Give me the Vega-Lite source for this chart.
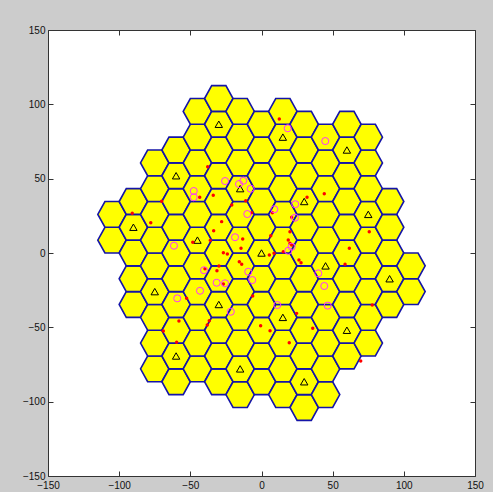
{
  "$schema": "https://vega.github.io/schema/vega-lite/v6.json",
  "width": 427,
  "height": 446,
  "autosize": {"type": "none"},
  "padding": {"left": 48, "top": 30, "right": 18, "bottom": 16},
  "background": "#cccccc",
  "view": {"fill": "white", "stroke": "#333333", "strokeWidth": 1},
  "config": {
    "axis": {
      "grid": false,
      "domain": false,
      "tickSize": -5,
      "tickColor": "#333333",
      "labelFont": "Liberation Sans",
      "labelFontSize": 10,
      "labelColor": "#111111",
      "labelFlush": false,
      "labelOverlap": false,
      "title": null
    },
    "axisBottom": {"labelPadding": 9},
    "axisLeft": {"labelPadding": 8}
  },
  "datasets": {
    "hex": [
      {"x": -105, "y": 8.66}, {"x": -105, "y": 25.98},
      {"x": -90, "y": -34.64}, {"x": -90, "y": -17.32}, {"x": -90, "y": 0}, {"x": -90, "y": 17.32}, {"x": -90, "y": 34.64},
      {"x": -75, "y": -77.94}, {"x": -75, "y": -60.62}, {"x": -75, "y": -43.3}, {"x": -75, "y": -25.98}, {"x": -75, "y": -8.66}, {"x": -75, "y": 8.66}, {"x": -75, "y": 25.98}, {"x": -75, "y": 43.3}, {"x": -75, "y": 60.62},
      {"x": -60, "y": -86.6}, {"x": -60, "y": -69.28}, {"x": -60, "y": -51.96}, {"x": -60, "y": -34.64}, {"x": -60, "y": -17.32}, {"x": -60, "y": 0}, {"x": -60, "y": 17.32}, {"x": -60, "y": 34.64}, {"x": -60, "y": 51.96}, {"x": -60, "y": 69.28},
      {"x": -45, "y": -77.94}, {"x": -45, "y": -60.62}, {"x": -45, "y": -43.3}, {"x": -45, "y": -25.98}, {"x": -45, "y": -8.66}, {"x": -45, "y": 8.66}, {"x": -45, "y": 25.98}, {"x": -45, "y": 43.3}, {"x": -45, "y": 60.62}, {"x": -45, "y": 77.94}, {"x": -45, "y": 95.26},
      {"x": -30, "y": -86.6}, {"x": -30, "y": -69.28}, {"x": -30, "y": -51.96}, {"x": -30, "y": -34.64}, {"x": -30, "y": -17.32}, {"x": -30, "y": 0}, {"x": -30, "y": 17.32}, {"x": -30, "y": 34.64}, {"x": -30, "y": 51.96}, {"x": -30, "y": 69.28}, {"x": -30, "y": 86.6}, {"x": -30, "y": 103.92},
      {"x": -15, "y": -95.26}, {"x": -15, "y": -77.94}, {"x": -15, "y": -60.62}, {"x": -15, "y": -43.3}, {"x": -15, "y": -25.98}, {"x": -15, "y": -8.66}, {"x": -15, "y": 8.66}, {"x": -15, "y": 25.98}, {"x": -15, "y": 43.3}, {"x": -15, "y": 60.62}, {"x": -15, "y": 77.94}, {"x": -15, "y": 95.26},
      {"x": 0, "y": -86.6}, {"x": 0, "y": -69.28}, {"x": 0, "y": -51.96}, {"x": 0, "y": -34.64}, {"x": 0, "y": -17.32}, {"x": 0, "y": 0}, {"x": 0, "y": 17.32}, {"x": 0, "y": 34.64}, {"x": 0, "y": 51.96}, {"x": 0, "y": 69.28}, {"x": 0, "y": 86.6},
      {"x": 15, "y": -95.26}, {"x": 15, "y": -77.94}, {"x": 15, "y": -60.62}, {"x": 15, "y": -43.3}, {"x": 15, "y": -25.98}, {"x": 15, "y": -8.66}, {"x": 15, "y": 8.66}, {"x": 15, "y": 25.98}, {"x": 15, "y": 43.3}, {"x": 15, "y": 60.62}, {"x": 15, "y": 77.94}, {"x": 15, "y": 95.26},
      {"x": 30, "y": -103.92}, {"x": 30, "y": -86.6}, {"x": 30, "y": -69.28}, {"x": 30, "y": -51.96}, {"x": 30, "y": -34.64}, {"x": 30, "y": -17.32}, {"x": 30, "y": 0}, {"x": 30, "y": 17.32}, {"x": 30, "y": 34.64}, {"x": 30, "y": 51.96}, {"x": 30, "y": 69.28}, {"x": 30, "y": 86.6},
      {"x": 45, "y": -95.26}, {"x": 45, "y": -77.94}, {"x": 45, "y": -60.62}, {"x": 45, "y": -43.3}, {"x": 45, "y": -25.98}, {"x": 45, "y": -8.66}, {"x": 45, "y": 8.66}, {"x": 45, "y": 25.98}, {"x": 45, "y": 43.3}, {"x": 45, "y": 60.62}, {"x": 45, "y": 77.94},
      {"x": 60, "y": -69.28}, {"x": 60, "y": -51.96}, {"x": 60, "y": -34.64}, {"x": 60, "y": -17.32}, {"x": 60, "y": 0}, {"x": 60, "y": 17.32}, {"x": 60, "y": 34.64}, {"x": 60, "y": 51.96}, {"x": 60, "y": 69.28}, {"x": 60, "y": 86.6},
      {"x": 75, "y": -60.62}, {"x": 75, "y": -43.3}, {"x": 75, "y": -25.98}, {"x": 75, "y": -8.66}, {"x": 75, "y": 8.66}, {"x": 75, "y": 25.98}, {"x": 75, "y": 43.3}, {"x": 75, "y": 60.62}, {"x": 75, "y": 77.94},
      {"x": 90, "y": -34.64}, {"x": 90, "y": -17.32}, {"x": 90, "y": 0}, {"x": 90, "y": 17.32}, {"x": 90, "y": 34.64},
      {"x": 105, "y": -25.98}, {"x": 105, "y": -8.66}
    ],
    "bs": [
      {"x": 0, "y": 0}, {"x": 45, "y": -8.66}, {"x": 30, "y": 34.64}, {"x": -15, "y": 43.3}, {"x": -45, "y": 8.66}, {"x": -30, "y": -34.64}, {"x": 15, "y": -43.3},
      {"x": 90, "y": -17.32}, {"x": 75, "y": 25.98}, {"x": 60, "y": 69.28}, {"x": 15, "y": 77.94}, {"x": -30, "y": 86.6}, {"x": -60, "y": 51.96}, {"x": -90, "y": 17.32},
      {"x": -75, "y": -25.98}, {"x": -60, "y": -69.28}, {"x": -15, "y": -77.94}, {"x": 30, "y": -86.6}, {"x": 60, "y": -51.96}
    ],
    "dots": [
      {"x": -37.8, "y": 58.0}, {"x": -33.9, "y": 38.8}, {"x": -43.4, "y": 37.5}, {"x": -70.1, "y": 34.8}, {"x": 12.5, "y": 90.1},
      {"x": -11.1, "y": 35.2}, {"x": 32.0, "y": 37.5}, {"x": 44.1, "y": 39.9}, {"x": -90.8, "y": 26.7}, {"x": -77.8, "y": 20.4},
      {"x": -33.6, "y": 15.0}, {"x": -48.3, "y": 7.2}, {"x": -36.0, "y": 8.5}, {"x": -39.7, "y": -10.6}, {"x": -31.3, "y": -11.9},
      {"x": -29.9, "y": -8.7}, {"x": -20.9, "y": 32.3}, {"x": -6.9, "y": 27.1}, {"x": 7.6, "y": 27.1}, {"x": 21.2, "y": 24.0},
      {"x": -28.0, "y": 21.1}, {"x": -13.2, "y": 9.4}, {"x": 6.5, "y": 11.6}, {"x": 20.0, "y": 14.3}, {"x": 18.8, "y": 8.7},
      {"x": 20.0, "y": 6.5}, {"x": 21.2, "y": 5.4}, {"x": 15.3, "y": 0.9}, {"x": 5.5, "y": -1.3}, {"x": 8.8, "y": -0.2},
      {"x": -14.4, "y": 3.2}, {"x": -26.8, "y": 0.2}, {"x": -24.0, "y": -0.7}, {"x": -15.6, "y": -5.9}, {"x": -13.9, "y": -7.6},
      {"x": 26.3, "y": -4.7}, {"x": 27.8, "y": -6.5}, {"x": -26.8, "y": -20.9}, {"x": 75.7, "y": 14.3}, {"x": 61.7, "y": 3.2},
      {"x": 58.7, "y": -7.6}, {"x": -52.6, "y": -30.5}, {"x": -58.0, "y": -45.7}, {"x": -36.7, "y": -45.5}, {"x": -38.1, "y": -48.4},
      {"x": -69.0, "y": -52.5}, {"x": -59.6, "y": -60.1}, {"x": -6.2, "y": -28.9}, {"x": 24.7, "y": -40.6}, {"x": -0.6, "y": -48.9},
      {"x": 6.0, "y": -52.3}, {"x": 19.5, "y": -60.3}, {"x": 36.0, "y": -50.6}, {"x": 77.8, "y": -35.0}, {"x": 69.7, "y": -72.6}
    ],
    "circles": [
      {"x": -47.6, "y": 41.7}, {"x": -47.6, "y": 37.5}, {"x": 18.4, "y": 83.9}, {"x": -25.6, "y": 48.4}, {"x": -12.8, "y": 48.6},
      {"x": -15.8, "y": 46.4}, {"x": -7.6, "y": 43.2}, {"x": 23.7, "y": 32.8}, {"x": 44.8, "y": 75.3}, {"x": -61.5, "y": 4.9},
      {"x": -40.4, "y": -11.6}, {"x": -31.5, "y": -20.0}, {"x": -43.2, "y": -25.4}, {"x": -10.0, "y": 26.2}, {"x": 9.0, "y": 29.4},
      {"x": 23.5, "y": 23.7}, {"x": -18.6, "y": 10.6}, {"x": 21.2, "y": 4.2}, {"x": 18.8, "y": 1.5}, {"x": -9.3, "y": -12.6},
      {"x": -6.5, "y": -18.2}, {"x": -25.6, "y": -20.4}, {"x": 39.9, "y": -13.7}, {"x": 44.1, "y": -22.2}, {"x": -59.2, "y": -30.5},
      {"x": -21.6, "y": -39.5}, {"x": 11.1, "y": -35.0}, {"x": 46.5, "y": -35.4}
    ]
  },
  "layer": [
    {
      "data": {"name": "hex"},
      "mark": {
        "type": "point",
        "shape": "M-1,0L-0.5,-0.9046L0.5,-0.9046L1,0L0.5,0.9046L-0.5,0.9046Z",
        "size": 810,
        "filled": true,
        "fill": "#ffff00",
        "stroke": "#1414a8",
        "strokeWidth": 1.6,
        "opacity": 1,
        "fillOpacity": 1,
        "strokeOpacity": 1
      },
      "encoding": {
        "x": {"field": "x", "type": "quantitative", "scale": {"domain": [-150, 150], "nice": false, "zero": false}, "axis": {"orient": "bottom", "values": [-150, -100, -50, 0, 50, 100, 150]}},
        "y": {"field": "y", "type": "quantitative", "scale": {"domain": [-150, 150], "nice": false, "zero": false}, "axis": {"orient": "left", "values": [-150, -100, -50, 0, 50, 100, 150]}}
      }
    },
    {
      "data": {"name": "bs"},
      "mark": {"type": "point", "shape": "triangle-up", "size": 55, "filled": false, "stroke": "#000000", "strokeWidth": 1, "opacity": 1},
      "encoding": {
        "x": {"field": "x", "type": "quantitative", "scale": {"domain": [-150, 150], "nice": false, "zero": false}, "axis": {"orient": "top", "labels": false, "values": [-150, -100, -50, 0, 50, 100, 150]}},
        "y": {"field": "y", "type": "quantitative", "scale": {"domain": [-150, 150], "nice": false, "zero": false}, "axis": {"orient": "right", "labels": false, "values": [-150, -100, -50, 0, 50, 100, 150]}}
      }
    },
    {
      "data": {"name": "dots"},
      "mark": {"type": "point", "shape": "circle", "size": 12, "filled": true, "fill": "#ff0000", "opacity": 1, "strokeWidth": 0},
      "encoding": {
        "x": {"field": "x", "type": "quantitative", "scale": {"domain": [-150, 150], "nice": false, "zero": false}, "axis": null},
        "y": {"field": "y", "type": "quantitative", "scale": {"domain": [-150, 150], "nice": false, "zero": false}, "axis": null}
      }
    },
    {
      "data": {"name": "circles"},
      "mark": {"type": "point", "shape": "circle", "size": 50, "filled": false, "stroke": "#ff33ff", "strokeWidth": 1, "opacity": 1},
      "encoding": {
        "x": {"field": "x", "type": "quantitative", "scale": {"domain": [-150, 150], "nice": false, "zero": false}, "axis": null},
        "y": {"field": "y", "type": "quantitative", "scale": {"domain": [-150, 150], "nice": false, "zero": false}, "axis": null}
      }
    }
  ],
  "resolve": {"axis": {"x": "independent", "y": "independent"}}
}
